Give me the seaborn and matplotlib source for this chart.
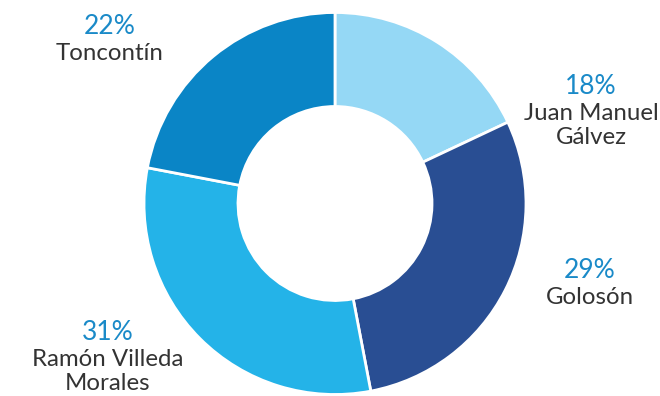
import matplotlib
matplotlib.use("Agg")
import matplotlib.pyplot as plt
import seaborn as sns

categories = ["Juan Manuel\nGálvez", "Golosón", "Ramón Villeda\nMorales", "Toncontín"]
shares = [18, 29, 31, 22]
pct_labels = ["18%", "29%", "31%", "22%"]
colors = ["#95D8F5", "#294E93", "#24B3E8", "#0A85C6"]

# label anchor positions (pixel coords, x, y from top) for percent line
label_pos = [(591, 87), (590, 270), (108, 333), (110, 27)]

sns.set_theme(style="white")
plt.rcParams['font.family'] = ['Lato', 'DejaVu Sans']

W, H = 660, 396
fig = plt.figure(figsize=(W / 100, H / 100), dpi=100)
ax = fig.add_axes([0, 0, 1, 1])

cx, cy = 335, H - 203.5
R = 191
ax.pie(shares, colors=colors, startangle=90, counterclock=False,
       center=(cx, cy), radius=R, frame=True,
       wedgeprops=dict(width=94, edgecolor="white", linewidth=2))
ax.set_xlim(0, W)
ax.set_ylim(0, H)
ax.set_aspect("equal")
ax.axis("off")

for (x, y), pct, name in zip(label_pos, pct_labels, categories):
    ax.text(x, H - y, pct, ha="center", va="center", fontsize=19,
            color="#1A8AC8")
    for i, line in enumerate(name.split("\n")):
        ax.text(x, H - (y + 27 + 24 * i), line, ha="center", va="center",
                fontsize=17.3, color="#333333")

fig.savefig("out.png", dpi=100)
